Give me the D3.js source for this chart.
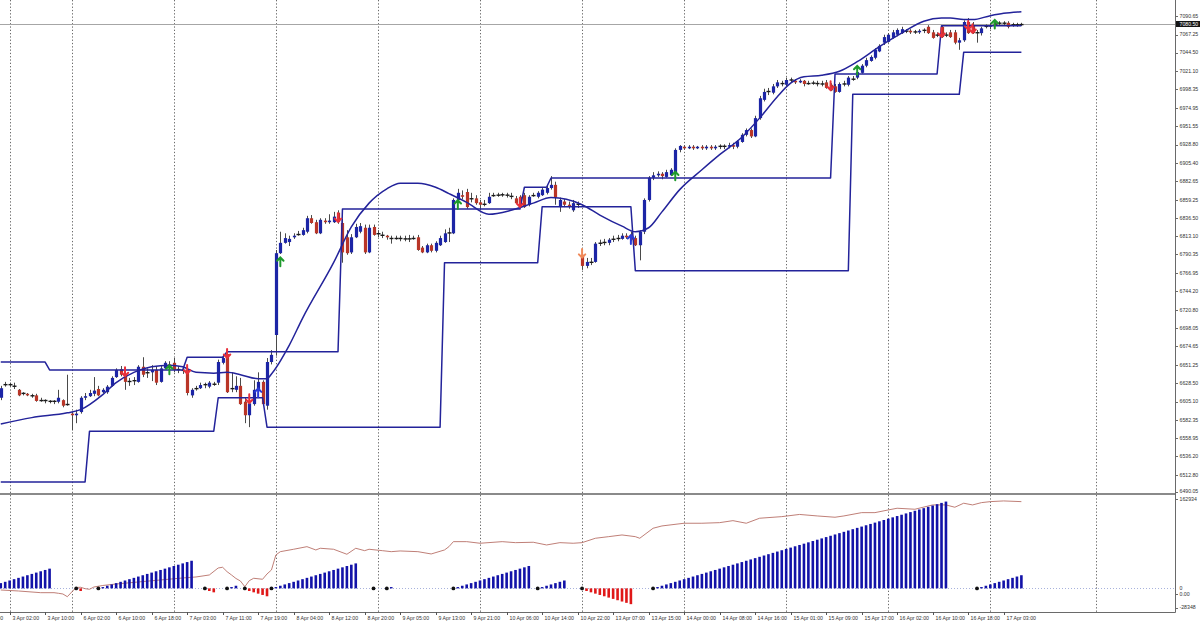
<!DOCTYPE html>
<html><head><meta charset="utf-8">
<script src="https://cdn.jsdelivr.net/npm/d3@7/dist/d3.min.js"></script>
<style>html,body{margin:0;padding:0;background:#fff}svg{display:block}</style>
</head><body>
<svg id="chart" width="1200" height="624"></svg>
<script>
// ================= DATA =================
const firstBar = -1; // bar index of first candle
const openP = [
6610,6626,6627,6625,6620,6615,6615,6613,6613,6606,
6607,6606,6605,6605,6607,6601,6590,6588,6592,6610,
6612,6615,6621,6617,6617,6625,6636,6646,6639,6630,
6631,6630,6649,6641,6642,6645,6630,6647,6652,6654,
6645,6645,6645,6613,6621,6622,6626,6624,6627,6629,
6654,6665,6621,6620,6625,6605,6588,6602,6620,6630,
6600,6655,6689,6792,6805,6806,6812,6815,6815,6819,
6836,6831,6817,6833,6831,6831,6843,6830,6812,6793,
6812,6819,6824,6793,6825,6816,6815,6814,6811,6810,
6811,6810,6810,6810,6812,6799,6793,6802,6795,6802,
6806,6817,6817,6859,6865,6869,6860,6861,6856,6853,
6855,6864,6865,6865,6865,6864,6861,6863,6865,6853,
6864,6863,6865,6868,6874,6878,6850,6857,6853,6846,
6854,6790,6776,6780,6781,6804,6805,6805,6809,6810,
6810,6814,6815,6811,6802,6819,6859,6887,6890,6892,
6888,6890,6894,6922,6926,6924,6926,6924,6926,6924,
6926,6924,6926,6927,6926,6928,6926,6932,6941,6947,
6939,6962,6985,6995,6994,7002,7006,7004,7010,7009,
7007,7009,7005,7006,7006,7005,7007,7004,7002,6995,
7005,7004,7011,7013,7019,7028,7034,7038,7046,7057,
7058,7063,7067,7069,7072,7072,7070,7070,7072,7077,
7070,7066,7077,7066,7070,7070,7057,7060,7083,7079,
7069,7069,7078,7077,7080,7082,7082,7082,7079,7079,
7079];
const highP = [
6625,6630,6629,6629,6621,6617,6616,6615,6615,6610,
6608,6607,6607,6620,6608,6639,6592,6595,6612,6616,
6620,6636,6625,6622,6626,6637,6647,6650,6641,6635,
6636,6651,6661,6647,6651,6650,6650,6656,6656,6660,
6650,6649,6646,6622,6625,6629,6629,6631,6630,6658,
6664,6668,6642,6637,6635,6610,6607,6632,6642,6632,
6660,6670,6796,6819,6817,6814,6817,6820,6824,6839,
6840,6834,6836,6836,6841,6844,6846,6835,6821,6816,
6829,6830,6828,6828,6828,6821,6819,6815,6814,6814,
6814,6814,6815,6814,6815,6801,6804,6804,6807,6814,
6822,6824,6861,6873,6871,6873,6868,6865,6859,6859,
6868,6868,6868,6868,6868,6868,6864,6865,6868,6865,
6868,6870,6874,6877,6889,6882,6862,6860,6857,6859,
6857,6796,6786,6786,6806,6809,6810,6811,6814,6815,
6817,6817,6819,6814,6821,6861,6889,6894,6895,6894,
6897,6899,6924,6928,6928,6928,6928,6927,6928,6928,
6928,6928,6929,6929,6931,6931,6934,6943,6949,6949,
6965,6990,6999,7000,7005,7010,7009,7013,7013,7011,
7011,7010,7009,7009,7009,7009,7010,7006,7005,7007,
7009,7015,7015,7021,7030,7038,7041,7050,7055,7067,
7069,7073,7075,7077,7074,7074,7073,7074,7075,7079,
7073,7070,7079,7070,7073,7073,7063,7085,7088,7083,
7073,7077,7080,7082,7084,7084,7084,7084,7082,7082,
7082];
const lowP = [
6607,6624,6624,6621,6612,6613,6612,6610,6605,6605,
6603,6603,6602,6603,6598,6600,6569,6578,6590,6607,
6611,6612,6612,6616,6615,6624,6635,6637,6620,6625,
6626,6629,6636,6635,6631,6626,6629,6646,6642,6642,
6641,6640,6613,6610,6619,6621,6622,6622,6625,6626,
6652,6616,6617,6617,6601,6578,6573,6600,6617,6600,
6595,6652,6663,6791,6804,6801,6810,6814,6814,6817,
6829,6816,6816,6829,6829,6830,6829,6780,6790,6791,
6811,6817,6791,6792,6814,6812,6811,6809,6804,6809,
6807,6807,6806,6809,6795,6792,6792,6793,6793,6801,
6805,6806,6816,6858,6860,6848,6856,6853,6846,6851,
6854,6863,6863,6863,6862,6860,6854,6849,6849,6851,
6863,6861,6864,6866,6872,6853,6844,6850,6848,6844,
6849,6771,6773,6777,6780,6801,6802,6802,6806,6807,
6809,6810,6807,6801,6783,6816,6857,6884,6888,6885,
6887,6889,6892,6919,6922,6923,6922,6923,6922,6922,
6922,6922,6923,6923,6924,6923,6924,6931,6939,6937,
6938,6960,6983,6991,6992,7000,7002,7001,7007,7005,
7006,7002,7004,7004,7002,7002,6999,6996,6994,6994,
7002,7002,7009,7011,7018,7026,7033,7036,7045,7054,
7057,7062,7065,7068,7069,7068,7068,7068,7069,7068,
7062,7064,7063,7064,7063,7055,7048,7058,7068,7068,
7057,7066,7075,7074,7078,7079,7078,7075,7077,7077,
7078];
const closeP = [
6622,6627,6626,6624,6613,6616,6613,6612,6606,6607,
6606,6605,6606,6610,6600,6602,6588,6590,6610,6612,
6616,6619,6613,6620,6624,6635,6645,6639,6630,6631,
6632,6649,6639,6642,6645,6629,6647,6654,6650,6645,
6646,6644,6616,6620,6622,6626,6627,6629,6627,6655,
6660,6617,6622,6625,6602,6588,6603,6620,6630,6602,
6655,6664,6792,6805,6811,6810,6814,6816,6821,6836,
6830,6817,6834,6831,6833,6838,6831,6793,6792,6812,
6825,6826,6793,6824,6815,6817,6814,6812,6810,6811,
6810,6810,6810,6811,6796,6793,6802,6795,6805,6811,
6817,6818,6859,6868,6863,6850,6861,6855,6853,6854,
6863,6865,6865,6866,6865,6863,6855,6850,6850,6863,
6865,6868,6872,6874,6878,6862,6859,6853,6851,6855,
6853,6776,6781,6781,6804,6805,6806,6809,6810,6811,
6814,6812,6809,6802,6819,6859,6887,6890,6892,6889,
6894,6897,6922,6927,6924,6926,6924,6926,6924,6926,
6924,6926,6927,6926,6928,6926,6933,6941,6947,6939,
6962,6987,6995,6996,7002,7007,7005,7010,7010,7007,
7009,7005,7006,7006,7005,7005,7000,6997,6995,7005,
7005,7013,7011,7020,7028,7035,7039,7048,7053,7064,
7067,7070,7073,7074,7071,7070,7071,7072,7073,7069,
7063,7067,7064,7067,7064,7057,7060,7083,7069,7069,
7070,7075,7077,7079,7081,7081,7081,7077,7080,7080,
7080.5];
const bidPrice = 7080.5;

// step-line indicators (levels and how many bars each lasts, from firstBar)
const loLevels = [6504,6568,6610,6573,6780,6850.5,6770,6992,7045];
const loRuns   = [20,29,11,40,22,21,49,25,14];
const hiLevels = [6655,6645,6661,6668,6847.6,6875,6886.7,7017.5,7078.3];
const hiRuns   = [11,31,9,26,41,6,64,24,19];

// smooth moving-average curve (read at sample bars)
const curveBars = [-1,6,14,17,22,25,29,33,37,40,43,47,50,53,57,59,60,64,67,74,78,82,86,89,93,97,100,104,109,114,119,123,130,134,139,142,145,148,152,157,161,166,170,174,177,180,184,188,192,197,202,207,211,213,216,218,222,225,229];
const curveVals = [6577,6585,6591,6595,6614,6629,6642,6649,6651,6649,6642,6641,6642,6639,6634,6634,6640,6676,6710,6780,6825,6855,6873,6880,6880,6875,6867,6856,6841,6846,6855,6862,6853,6840,6826,6819,6824,6844,6872,6897,6916,6938,6962,6989,7006,7014,7016,7021,7033,7052,7069,7084,7088,7088,7086,7086,7091,7094,7096];

// signal arrows
const greenUpBars = [37,62,102,151,192,223];
const greenUpTips = [6651,6787,6859,6895,7028,7086];
const redDownBars = [27,41,50,55,75,116,186,211,217,218];
const redDownTips = [6637,6640,6660,6603,6831,6850,6997,7064,7073,7069];
const orangeDownBars = [130];
const orangeDownTips = [6786];
const blueUpBars = [57,141];
const blueUpTips = [6622,6815];

// lower window: cumulative line
const obvBars = [-1,3,8,11,12,13,14,15,16,17,18,19,20,22,25,30,35,40,43,46,48,49,50,51,52,53,54,55,56,58,59,60,61,62,65,68,70,71,74,77,79,81,82,85,87,89,93,96,99,100,101,104,107,112,115,119,122,125,128,130,133,136,139,142,143,146,148,153,157,161,164,167,170,175,179,183,187,189,193,196,199,201,205,209,212,214,216,218,220,222,225,229];
const obvVals = [6300,4650,1850,1850,860,-300,-4750,3000,10430,10760,8450,7460,11250,13730,16200,19500,22800,26100,27750,31050,42600,43760,36500,31050,25280,21150,11750,21650,25610,23960,32700,39300,64050,69500,73460,77750,72300,75110,73460,65210,75110,71150,73460,71150,69500,70650,69500,65700,72300,77750,86000,86000,83360,86000,84350,85010,80550,84350,83360,84350,91610,94250,97050,94250,91610,108100,111900,116360,116360,117350,120650,116360,124610,127250,130880,128400,126260,128400,133850,133850,138300,141110,139460,146550,146550,142760,149360,146550,150350,152000,153150,152000];
const obvTickVals = [162934, 0, -28348];
const obvTickText = ["162934", "0.00", "-28348"];

// lower window: trend-count histogram
const histDots = [16,21,45,50,54,60,83,86,101,120,130,146,219];
const histStarts = [-1,17,22,46,51,55,61,87,102,121,131,147,220];
const histValues = [
 [4,5,6,7,8,9,10,11,12,13,14,15],
 [-2],
 [1,2,3,4,5,6,7,8,9,10,11,12,13,14,15,16,17,18,19,20,21],
 [-2,-3],
 [1,2],
 [-2,-3,-4,-5,-6],
 [1,2,3,4,5,6,7,8,9,10,11,12,13,14,15,16,17,18,19],
 [1],
 [1,2,3,4,5,6,7,8,9,10,11,12,13,14,15,16,17],
 [1,2,3,4,5,6],
 [-2,-3,-4,-5,-6,-7,-8,-9,-10,-11,-12],
 [1,2,3,4,5,6,7,8,9,10,11,12,13,14,15,16,17,18,19,20,21,22,23,24,25,26,27,28,29,30,31,32,33,34,35,36,37,38,39,40,41,42,43,44,45,46,47,48,49,50,51,52,53,54,55,56,57,58,59,60,61,62,63,64,65,66],
 [1,2,3,4,5,6,7,8,9,10]
];

// axes
const priceTicks = [7113.40,7090.65,7067.25,7044.50,7021.10,6998.35,6974.95,6951.55,6928.80,6905.40,6882.65,6859.25,6836.50,6813.10,6790.35,6766.95,6744.20,6720.80,6698.05,6674.65,6651.25,6628.50,6605.10,6582.35,6558.95,6536.20,6512.80,6490.05];
const timeLabelBars = [-7,1,9,17,25,33,41,49,57,65,73,81,89,97,105,113,121,129,137,145,153,161,169,177,185,193,201,209,217,225];
const timeLabels = ["2 Apr 17:00","3 Apr 02:00","3 Apr 10:00","6 Apr 02:00","6 Apr 10:00","6 Apr 18:00","7 Apr 03:00","7 Apr 11:00","7 Apr 19:00","8 Apr 04:00","8 Apr 12:00","8 Apr 20:00","9 Apr 05:00","9 Apr 13:00","9 Apr 21:00","10 Apr 06:00","10 Apr 14:00","10 Apr 22:00","13 Apr 07:00","13 Apr 15:00","14 Apr 00:00","14 Apr 08:00","14 Apr 16:00","15 Apr 01:00","15 Apr 09:00","15 Apr 17:00","16 Apr 02:00","16 Apr 10:00","16 Apr 18:00","17 Apr 03:00"];
const gridBars = [1,15,38,61,84,107,130,153,176,199,222,245.8];

// ================= LAYOUT =================
const W = 1200, H = 624;
const plotRight = 1175, mainBottom = 493, subTop = 495, subBottom = 611, axisY = 612;
const FONT = "'Liberation Sans', Arial, sans-serif";
const FS = 5.2;

const x = d3.scaleLinear().domain([0, 229]).range([5.2, 5.2 + 229 * 4.4375]);
const y = d3.scaleLinear().domain([6490.05, 7090.65]).range([493.05, 15.93]);
const yObv = d3.scaleLinear().domain([-28348, 162934]).range([subBottom, subTop]);
const yHist = d3.scaleLinear().domain([-17.2, 71]).range([subBottom, subTop]);

const svg = d3.select('#chart');
svg.append('rect').attr('width', W).attr('height', H).attr('fill', '#fff');
const defs = svg.append('defs');
defs.append('clipPath').attr('id', 'mainClip').append('rect').attr('x', 0).attr('y', 0).attr('width', plotRight).attr('height', mainBottom);
defs.append('clipPath').attr('id', 'subClip').append('rect').attr('x', 0).attr('y', subTop).attr('width', plotRight).attr('height', subBottom - subTop + 1);

const px = v => Math.round(v) + 0.5;

// grid (day separators)
svg.append('g').selectAll('line').data(gridBars).join('line')
  .attr('x1', d => px(x(d))).attr('x2', d => px(x(d)))
  .attr('y1', 0).attr('y2', axisY)
  .attr('stroke', '#5a5a5a').attr('stroke-width', 0.9).attr('stroke-dasharray', '1.3,2');

// ---------- main window ----------
const main = svg.append('g').attr('clip-path', 'url(#mainClip)');

// bid line
main.append('line').attr('x1', 0).attr('x2', plotRight)
  .attr('y1', px(y(bidPrice))).attr('y2', px(y(bidPrice)))
  .attr('stroke', '#a6a6a6').attr('stroke-width', 1);

// candles
const bars = openP.map((o, i) => ({ b: i + firstBar, o, h: highP[i], l: lowP[i], c: closeP[i] }));
const cg = main.append('g');
bars.forEach(d => {
  const cx = px(x(d.b));
  cg.append('line').attr('x1', cx).attr('x2', cx).attr('y1', y(d.h)).attr('y2', y(d.l))
    .attr('stroke', '#4a4a4a').attr('stroke-width', 1);
  const diff = d.c - d.o;
  if (Math.abs(diff) < 1.6) {
    cg.append('rect').attr('x', cx - 2).attr('width', 4)
      .attr('y', y((d.o + d.c) / 2) - 0.7).attr('height', 1.4).attr('fill', '#1a1a1a');
  } else {
    const top = y(Math.max(d.o, d.c)), bot = y(Math.min(d.o, d.c));
    cg.append('rect').attr('x', cx - 1.6).attr('width', 3.2)
      .attr('y', top).attr('height', Math.max(1.2, bot - top))
      .attr('fill', diff > 0 ? '#1c25a6' : '#b93527');
  }
});

// step lines
function expandRuns(levels, runs) {
  const out = []; let b = firstBar;
  levels.forEach((v, k) => { for (let j = 0; j < runs[k]; j++) out.push({ b: b++, v }); });
  return out;
}
const stepLine = d3.line().x(d => x(d.b)).y(d => y(d.v));
[expandRuns(loLevels, loRuns), expandRuns(hiLevels, hiRuns)].forEach(s => {
  main.append('path').attr('d', stepLine(s)).attr('fill', 'none')
    .attr('stroke', '#23239a').attr('stroke-width', 1.5).attr('stroke-linejoin', 'round');
});

// smooth curve
const curve = curveBars.map((b, i) => ({ b, v: curveVals[i] }));
main.append('path').attr('d', d3.line().x(d => x(d.b)).y(d => y(d.v)).curve(d3.curveMonotoneX)(curve))
  .attr('fill', 'none').attr('stroke', '#23239a').attr('stroke-width', 1.5);

// arrows
function upArrow(b, tip, color) {
  const cx = x(b), ty = y(tip);
  main.append('path').attr('d', `M${cx},${ty + 9} L${cx},${ty + 0.5} M${cx - 3.2},${ty + 3.6} L${cx},${ty + 0.3} L${cx + 3.2},${ty + 3.6}`)
    .attr('fill', 'none').attr('stroke', color).attr('stroke-width', 2).attr('stroke-linecap', 'round');
}
function downArrow(b, tip, color) {
  const cx = x(b), ty = y(tip);
  main.append('path').attr('d', `M${cx},${ty - 9} L${cx},${ty - 0.5} M${cx - 3.2},${ty - 3.6} L${cx},${ty - 0.3} L${cx + 3.2},${ty - 3.6}`)
    .attr('fill', 'none').attr('stroke', color).attr('stroke-width', 2).attr('stroke-linecap', 'round');
}
greenUpBars.forEach((b, i) => upArrow(b, greenUpTips[i], '#1e9a2c'));
blueUpBars.forEach((b, i) => upArrow(b, blueUpTips[i], '#2a3ad8'));
redDownBars.forEach((b, i) => downArrow(b, redDownTips[i], '#e8303a'));
orangeDownBars.forEach((b, i) => downArrow(b, orangeDownTips[i], '#f08a5a'));

// ---------- lower window ----------
const sub = svg.append('g').attr('clip-path', 'url(#subClip)');
sub.append('line').attr('x1', 0).attr('x2', plotRight)
  .attr('y1', px(yHist(0))).attr('y2', px(yHist(0)))
  .attr('stroke', '#a8b2dc').attr('stroke-width', 1).attr('stroke-dasharray', '1,2');

const obv = obvBars.map((b, i) => ({ b, v: obvVals[i] }));
sub.append('path').attr('d', d3.line().x(d => x(d.b)).y(d => yObv(d.v))(obv))
  .attr('fill', 'none').attr('stroke', '#b87068').attr('stroke-width', 0.9);

histStarts.forEach((s, g) => {
  histValues[g].forEach((v, k) => {
    const cx = x(s + k);
    const y0 = yHist(0), y1 = yHist(v);
    sub.append('rect').attr('x', cx - 1.3).attr('width', 2.6)
      .attr('y', Math.min(y0, y1)).attr('height', Math.abs(y1 - y0))
      .attr('fill', v > 0 ? '#1212a8' : '#e01818');
  });
});
sub.selectAll('circle').data(histDots).join('circle')
  .attr('cx', d => x(d)).attr('cy', yHist(0)).attr('r', 1.9).attr('fill', '#111');

// ---------- frame ----------
svg.append('line').attr('x1', 0).attr('x2', plotRight).attr('y1', 494).attr('y2', 494)
  .attr('stroke', '#8a8a8a').attr('stroke-width', 2);
svg.append('line').attr('x1', px(plotRight)).attr('x2', px(plotRight)).attr('y1', 0).attr('y2', axisY + 0.5)
  .attr('stroke', '#6a6a6a').attr('stroke-width', 1);
svg.append('line').attr('x1', 0).attr('x2', plotRight + 0.5).attr('y1', px(axisY)).attr('y2', px(axisY))
  .attr('stroke', '#6a6a6a').attr('stroke-width', 1);

// price axis
const pa = svg.append('g');
priceTicks.forEach(p => {
  let yy = y(p);
  if (p === 6490.05) yy -= 1.5;
  pa.append('line').attr('x1', plotRight).attr('x2', plotRight + 3).attr('y1', px(yy)).attr('y2', px(yy)).attr('stroke', '#6a6a6a');
  pa.append('text').attr('x', plotRight + 4.5).attr('y', yy).attr('dy', '0.35em')
    .attr('font-family', FONT).attr('font-size', FS).attr('fill', '#333').text(p.toFixed(2));
});
// current price box
const by = y(bidPrice);
pa.append('rect').attr('x', plotRight + 1).attr('y', by - 3).attr('width', 24).attr('height', 6).attr('fill', '#151515');
pa.append('text').attr('x', plotRight + 4.5).attr('y', by).attr('dy', '0.35em')
  .attr('font-family', FONT).attr('font-size', FS).attr('fill', '#fff').text(bidPrice.toFixed(2));

// lower window axis labels
obvTickVals.forEach((v, i) => {
  let yy = yObv(v);
  if (i === 0) yy += 4; else if (i === obvTickVals.length - 1) yy -= 3.5; else yy += 0.4;
  pa.append('line').attr('x1', plotRight).attr('x2', plotRight + 3).attr('y1', px(yy)).attr('y2', px(yy)).attr('stroke', '#6a6a6a');
  pa.append('text').attr('x', plotRight + 4.5).attr('y', yy).attr('dy', '0.35em')
    .attr('font-family', FONT).attr('font-size', FS).attr('fill', '#333').text(obvTickText[i]);
});
pa.append('text').attr('x', plotRight + 4.5).attr('y', yHist(0) - 0.5).attr('dy', '0.35em')
  .attr('font-family', FONT).attr('font-size', FS).attr('fill', '#333').text('0');

// time axis
const ta = svg.append('g');
timeLabelBars.forEach((b, i) => {
  const xx = px(x(b));
  ta.append('line').attr('x1', xx).attr('x2', xx).attr('y1', axisY).attr('y2', axisY + 3).attr('stroke', '#555');
  ta.append('text').attr('x', xx + 2).attr('y', 618).attr('dy', '0.35em')
    .attr('font-family', FONT).attr('font-size', FS).attr('fill', '#333').text(timeLabels[i]);
});
</script>
</body></html>
